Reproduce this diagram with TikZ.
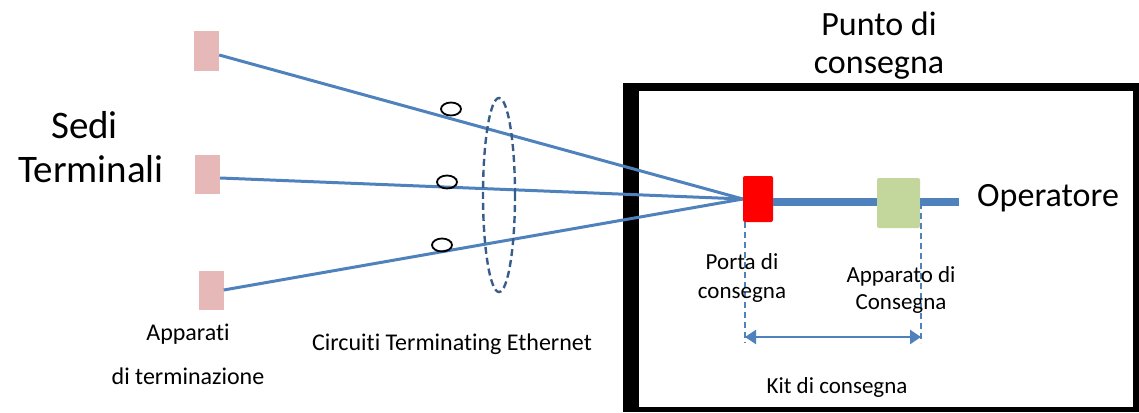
\documentclass[tikz,border=0pt]{standalone}
\usepackage{fontspec}
\setmainfont{Carlito}[Ligatures=CommonOff]
\usetikzlibrary{shapes.geometric,arrows.meta}
\definecolor{sitepink}{HTML}{E6B9B8}
\definecolor{linkblue}{HTML}{4F81BD}
\definecolor{ringblue}{HTML}{385D8A}
\definecolor{kitgreen}{HTML}{C3D69B}

\begin{document}
\begin{tikzpicture}
[x=1pt, y=-1pt, every node/.style={inner sep=0pt},
 site/.style={rectangle, minimum width=25pt, minimum height=39pt, fill=sitepink},
 link/.style={line width=3pt, color=linkblue},
 tag/.style={ellipse, minimum width=20pt, minimum height=13pt, line width=1.8pt, draw=black},
 big/.style={font=\fontsize{34}{37}\selectfont, align=center},
 small/.style={font=\fontsize{23}{29}\selectfont, align=center},
 guide/.style={line width=1.6pt, color=linkblue, dash pattern=on 6pt off 4pt}]
\useasboundingbox (0,0) rectangle (1139,412);
% frame of the delivery point
\fill [black] (623,83) rectangle (1139,412);
\fill [white] (639,91) rectangle (1133,407);
% terminal sites
\node (st1) [site] at (206.5, 51) {};
\node (st2) [site] at (207.5, 174) {};
\node (st3) [site] at (211, 290) {};
\node (porta) [rectangle, minimum width=30pt, minimum height=46pt, fill=red, rounded corners=2pt] at (758, 199) {};
\node (app) [rectangle, minimum width=43pt, minimum height=50pt, fill=kitgreen, rounded corners=2pt] at (898.5, 203) {};
\coordinate (op) at (959, 202);
\draw [link] ([yshift=-4pt]st1.east) -- (porta.west);
\draw [link] ([yshift=-4pt]st2.east) -- (porta.west);
\draw [link] (st3.east) -- (porta.west);
\draw [line width=8pt, color=linkblue] (op -| porta.east) -- (op -| app.west);
\draw [line width=8pt, color=linkblue] (op -| app.east) -- (op);
\node (c1) [tag] at (451, 109) {};
\node (c2) [tag] at (447, 182) {};
\node (c3) [tag] at (442, 245) {};
\node (ring) [ellipse, minimum width=32pt, minimum height=194pt, line width=2.4pt, draw=ringblue, dash pattern=on 7pt off 4pt] at (499, 195) {};
% kit di consegna
\coordinate (kitl) at (745, 343);
\coordinate (kitr) at (921, 343);
\draw [guide] (porta.south -| kitl) -- (kitl);
\draw [guide] (app.center -| kitr) -- (kitr);
\draw [line width=2.4pt, color=linkblue, {Triangle[length=11pt,width=14pt]}-{Triangle[length=11pt,width=14pt]}] (745, 337) -- (921, 337);
% labels
\node (sedi) [big, font=\fontsize{39}{44}\selectfont, anchor=base] at (91, 182) {Sedi\hspace*{13pt}\\Terminali};
\node (punto) [big, anchor=base] at (879, 73) {Punto di\\consegna};
\node (oper) [big, anchor=base west] at (977, 206) {Operatore};
\node (lporta) [small, anchor=base] at (742, 298) {Porta di\\consegna};
\node (lapp) [small, font=\fontsize{23}{27}\selectfont, anchor=base] at (901, 309) {Apparato di\\Consegna};
\node (kit) [small, anchor=base] at (837, 393) {Kit di consegna};
\node (appa) [small, font=\fontsize{24}{44}\selectfont, anchor=base] at (188, 384) {Apparati\\di terminazione};
\node (circ) [small, font=\fontsize{24}{29}\selectfont, anchor=base] at (452, 350) {Circuiti Terminating Ethernet};
\end{tikzpicture}
\end{document}
